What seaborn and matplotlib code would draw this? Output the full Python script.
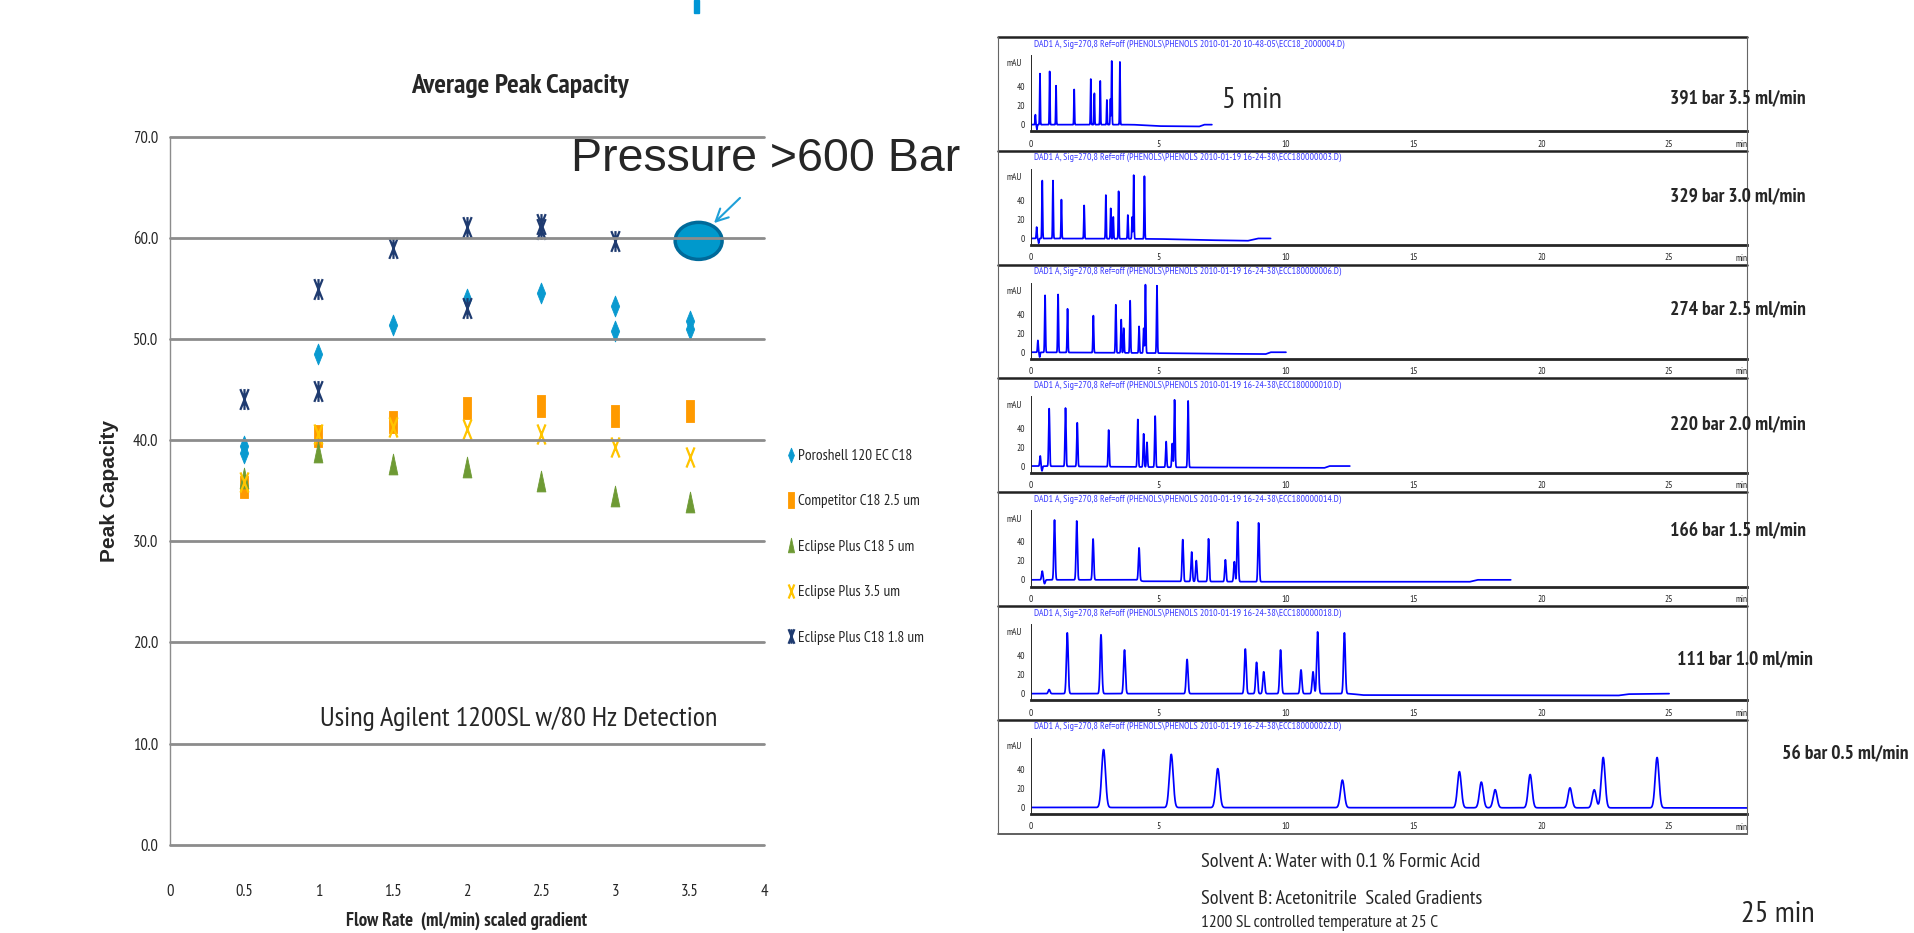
import numpy as np
import matplotlib
matplotlib.use("Agg")
import matplotlib.pyplot as plt
import seaborn as sns
from matplotlib import font_manager
from matplotlib.font_manager import FontProperties
from matplotlib.textpath import TextToPath
from matplotlib.path import Path
from matplotlib.patches import Ellipse, Rectangle
from matplotlib.ticker import MultipleLocator
from matplotlib.transforms import blended_transform_factory

W, H = 1914, 933

# ---- left chart: average peak capacity vs flow rate (ml/min) ----
poroshell_x = [0.5, 0.5, 1, 1.5, 2, 2.5, 3, 3, 3.5, 3.5]
poroshell_y = [39.4, 38.7, 48.5, 51.4, 54.0, 54.5, 53.3, 50.8, 51.8, 51.0]
competitor_x = [0.5, 1, 1.5, 2, 2.5, 3, 3.5]
competitor_y = [35.4, 40.4, 41.8, 43.2, 43.4, 42.4, 42.9]
eclipse5_x = [0.5, 1, 1.5, 2, 2.5, 3, 3.5]
eclipse5_y = [36.3, 38.8, 37.6, 37.3, 36.0, 34.5, 33.9]
eclipse35_x = [0.5, 1, 1.5, 2, 2.5, 3, 3.5]
eclipse35_y = [35.9, 40.6, 41.3, 41.1, 40.6, 39.3, 38.3]
eclipse18_x = [0.5, 1, 1, 1.5, 2, 2, 2.5, 2.5, 3, 3.5]
eclipse18_y = [44.1, 54.9, 44.9, 59.0, 61.1, 53.1, 61.4, 60.9, 59.7, 60.0]
series_labels = ["Poroshell 120 EC C18", "Competitor C18 2.5 um", "Eclipse Plus C18 5 um",
                 "Eclipse Plus 3.5 um", "Eclipse Plus C18 1.8 um"]
flow_ticks = [0, 0.5, 1, 1.5, 2, 2.5, 3, 3.5, 4]
capacity_ticks = [0, 10, 20, 30, 40, 50, 60, 70]

# ---- right: chromatograms, one per flow rate ----
run_labels = ["391 bar 3.5 ml/min", "329 bar 3.0 ml/min", "274 bar 2.5 ml/min",
              "220 bar 2.0 ml/min", "166 bar 1.5 ml/min", "111 bar 1.0 ml/min",
              "56 bar 0.5 ml/min"]
run_files = ["2010-01-20 10-48-05\\ECC18_2000004.D", "2010-01-19 16-24-38\\ECC180000003.D",
             "2010-01-19 16-24-38\\ECC180000006.D", "2010-01-19 16-24-38\\ECC180000010.D",
             "2010-01-19 16-24-38\\ECC180000014.D", "2010-01-19 16-24-38\\ECC180000018.D",
             "2010-01-19 16-24-38\\ECC180000022.D"]
run_end = [7.1, 9.4, 10.0, 12.5, 18.8, 25.0, 28.05]
peak_width = [0.012, 0.014, 0.016, 0.02, 0.026, 0.035, 0.075]
peak_t = [
    [0.19, 0.25, 0.37, 0.75, 1.0, 1.71, 2.36, 2.5, 2.73, 2.99, 3.13, 3.18, 3.5],
    [0.24, 0.32, 0.46, 0.88, 1.21, 2.10, 2.95, 3.14, 3.24, 3.45, 3.81, 3.98, 4.04, 4.46],
    [0.29, 0.36, 0.57, 1.08, 1.45, 2.46, 3.34, 3.55, 3.65, 3.90, 4.25, 4.43, 4.50, 4.95],
    [0.38, 0.45, 0.73, 1.37, 1.83, 3.06, 4.20, 4.43, 4.56, 4.88, 5.31, 5.55, 5.64, 6.17],
    [0.46, 0.55, 0.94, 1.81, 2.45, 4.25, 5.96, 6.31, 6.49, 6.97, 7.63, 7.98, 8.11, 8.93],
    [0.73, 1.44, 2.76, 3.68, 6.13, 8.41, 8.85, 9.13, 9.79, 10.59, 11.06, 11.24, 12.29],
    [2.86, 5.51, 7.33, 12.21, 16.79, 17.65, 18.19, 19.56, 21.12, 22.07, 22.42, 24.53],
]
peak_h = [
    [10.5, -5, 53.7, 56, 41, 37, 48, 33, 46, 26, 27, 67, 66],
    [12, -5, 61, 61, 41, 35, 46, 32, 23, 50, 25, 23, 67, 66],
    [12.5, -5, 60, 61, 46, 39, 50.6, 35, 26, 55, 28, 26, 72, 71],
    [10.7, -5, 60.6, 61.4, 46, 38.6, 50, 35, 26, 53.7, 27, 25, 71, 70],
    [9.2, -4, 63, 62, 43, 34, 44, 31, 22, 45, 23, 21, 63, 62],
    [4.3, 64, 62, 46, 36, 47, 33, 23, 46, 25, 23, 65, 64],
    [61, 56, 41, 29, 38, 27, 19, 35, 21, 19, 53, 53],
]
base_t = [
    [0, 4.0, 5.0, 6.6, 6.8, 7.1],
    [0, 5.0, 6.5, 8.5, 8.9, 9.4],
    [0, 5.5, 9.2, 9.4, 10.0],
    [0, 6.5, 11.5, 11.7, 12.5],
    [0, 4.2, 4.4, 9.0, 17.2, 17.5, 18.8],
    [0, 12.5, 13.0, 23.0, 23.4, 25.0],
    [0, 28.05],
]
base_v = [
    [0, 0, -1.5, -2.0, 0, 0],
    [0, -0.5, -1.5, -2.5, 0, 0],
    [0, -1.0, -2.0, 0, 0],
    [0, -1.5, -2.0, 0, 0],
    [0, 0, -1.5, -2.0, -2.0, 0, 0],
    [0, 0, -1.5, -2.0, -0.5, 0],
    [0, -0.5],
]

sns.set_style("white")

# the slide text is horizontally squeezed: use the narrowest installed sans face
_t2p = TextToPath()
SAMPLE = "Using Agilent 1200SL w/80 Hz Detection"
SANS = ("Sans", "Roboto", "Lato", "Inter")


def text_width(fp):
    return _t2p.get_text_width_height_descent(SAMPLE, fp, ismath=False)[0]


def as_weight(w):
    if isinstance(w, str):
        return font_manager.weight_dict.get(w, 400)
    return int(w)


ref_w = text_width(FontProperties(family="Liberation Sans", size=20))
best_font, best_stretch, best_r = "Liberation Sans", "normal", 1.0
faces = font_manager.fontManager.ttflist
cands = set()
for f in faces:
    if f.style != "normal" or not any(k in f.name for k in SANS):
        continue
    if any(k in f.name for k in ("Serif", "Mono", "CJK")):
        continue
    if f.stretch != "normal" or "Narrow" in f.name or "Condensed" in f.name:
        has_bold = any(g.name == f.name and g.stretch == f.stretch and as_weight(g.weight) >= 600
                       for g in faces)
        if has_bold:
            cands.add((f.name, f.stretch))
for name, stretch in sorted(cands):
    try:
        r = text_width(FontProperties(family=name, stretch=stretch, size=20)) / ref_w
    except Exception:
        continue
    if 0.5 <= r < best_r - 0.03:
        best_font, best_stretch, best_r = name, stretch, r
NS = 0.82 / best_r
plt.rcParams["font.family"] = [best_font, "DejaVu Sans"]
plt.rcParams["font.stretch"] = best_stretch

fig = plt.figure(figsize=(W / 100, H / 100), dpi=100)


def px_axes(x0, y0, x1, y1):
    return fig.add_axes([x0 / W, 1 - y1 / H, (x1 - x0) / W, (y1 - y0) / H])


# tall, narrow markers like the squeezed slide
M, L = Path.MOVETO, Path.LINETO
DIAMOND = Path([(0, 1), (0.4, 0), (0, -1), (-0.4, 0), (0, 1)], closed=True)
RECT = Path([(-0.33, -1), (0.33, -1), (0.33, 1), (-0.33, 1), (-0.33, -1)], closed=True)
TRI = Path([(0, 1), (0.42, -1), (-0.42, -1), (0, 1)], closed=True)
XMARK = Path([(-0.4, -1), (0.4, 1), (-0.4, 1), (0.4, -1)], [M, L, M, L])
STAR = Path([(-0.4, -1), (0.4, 1), (-0.4, 1), (0.4, -1), (0, -1), (0, 1)], [M, L, M, L, M, L])

# ---------------- left chart ----------------
ax = px_axes(169.7, 136.7, 764, 844.7)
ax.patch.set_alpha(0)
series = [
    (poroshell_x, poroshell_y, DIAMOND, "#0A9AD0", 15, 0.6),
    (competitor_x, competitor_y, RECT, "#FF9A00", 16, 0.6),
    (eclipse5_x, eclipse5_y, TRI, "#6E9A34", 15, 0.6),
    (eclipse35_x, eclipse35_y, XMARK, "#FFC400", 14.5, 1.6),
    (eclipse18_x, eclipse18_y, STAR, "#1F3B70", 15, 1.6),
]
for (xs, ys, mk, col, size, lw), lab in zip(series, series_labels):
    sns.scatterplot(x=xs, y=ys, ax=ax, marker=mk, s=size ** 2, color=col,
                    edgecolor=col, linewidth=lw, label=lab, zorder=3)

ax.add_patch(Ellipse((3.56, 59.7), 0.316, 3.66, facecolor="#0099CC",
                     edgecolor="#006A9A", lw=2.5, zorder=3.5))
for v in capacity_ticks:
    ax.axhline(v, color="#8c8c8c", lw=2, zorder=4, clip_on=False)

ax.set_xlim(0, 4)
ax.set_ylim(0, 70)
ax.set_xticks(flow_ticks)
ax.set_xticklabels([f"{v:g}" for v in flow_ticks])
ax.set_yticks(capacity_ticks)
ax.set_yticklabels([f"{v:.1f}" for v in capacity_ticks])
ax.tick_params(axis="x", length=0, pad=28, labelsize=11.5 * NS)
ax.tick_params(axis="y", length=0, pad=8, labelsize=11.5 * NS)
for s in ["top", "right", "bottom"]:
    ax.spines[s].set_visible(False)
ax.spines["left"].set_color("#8c8c8c")
ax.spines["left"].set_linewidth(1)

ax.set_ylabel("Peak Capacity", family="Liberation Sans", weight="bold", fontsize=15)
ax.yaxis.set_label_coords(-0.085, 0.5)
ax.set_xlabel("Flow Rate  (ml/min) scaled gradient", weight="bold", fontsize=13 * NS,
              va="center")
ax.xaxis.set_label_coords(0.5, -0.107)

leg_fs = 10.5 * NS
leg_px = leg_fs * 100 / 72
handles, labels = ax.get_legend_handles_labels()
ax.legend(handles, labels, loc="upper left", bbox_to_anchor=(786 / W, 1 - 449 / H),
          bbox_transform=fig.transFigure, frameon=False, fontsize=leg_fs,
          handlelength=0.6, handletextpad=0.2, labelspacing=46.6 / leg_px - 1.0,
          borderpad=0, borderaxespad=0, markerscale=0.7, scatteryoffsets=[0.5])

# ---------------- chromatograms ----------------
BOX_L, BOX_R, TOP0, PH = 998, 1747, 37, 113.8
X0 = 1030.5
label_pos = [(1738, 98), (1738, 196), (1738, 309), (1738, 424), (1738, 531),
             (1745, 659), (1845, 754)]
for i in range(7):
    top = TOP0 + i * PH
    ac = px_axes(X0, top + 18, BOX_R, top + 94.3)
    ac.patch.set_alpha(0)
    t = np.linspace(0, run_end[i], 7000)
    trace = np.interp(t, base_t[i], base_v[i])
    for p, h in zip(peak_t[i], peak_h[i]):
        trace = trace + h * np.exp(-0.5 * ((t - p) / peak_width[i]) ** 2)
    sns.lineplot(x=t, y=trace, ax=ac, color="#0000FF", linewidth=1.25,
                 estimator=None, sort=False)
    ac.set_xlim(0, 28.05)
    ac.set_ylim(-7, 73.3)
    ac.set_xticks([0, 5, 10, 15, 20, 25])
    ac.xaxis.set_minor_locator(MultipleLocator(1))
    ac.set_yticks([0, 20, 40])
    ac.yaxis.set_minor_locator(MultipleLocator(10))
    ac.tick_params(axis="x", which="major", length=3.5, width=0.8, pad=2.5,
                   labelsize=6.5 * NS, direction="out")
    ac.tick_params(axis="x", which="minor", length=2, width=0.6, direction="out")
    ac.tick_params(axis="y", which="major", length=2.5, width=0.7, pad=1.5,
                   labelsize=6.5 * NS, direction="out")
    ac.tick_params(axis="y", which="minor", length=1.5, width=0.6, direction="out")
    for s in ["top", "right"]:
        ac.spines[s].set_visible(False)
    ac.spines["bottom"].set_linewidth(2)
    ac.spines["left"].set_linewidth(0.7)
    ac.set_xlabel("")
    ac.set_ylabel("")
    tr = blended_transform_factory(ac.transData, ac.transAxes)
    ac.text(27.85, -0.17, "min", transform=tr, ha="center", va="center", fontsize=6.5 * NS)
    tr2 = blended_transform_factory(ac.transAxes, ac.transData)
    ac.text(-0.012, 64, "mAU", transform=tr2, ha="right", va="center", fontsize=6.5 * NS)

# ---------------- slide overlay (pixel coordinates) ----------------
bg = fig.add_axes([0, 0, 1, 1])
bg.set_xlim(0, W)
bg.set_ylim(H, 0)
bg.axis("off")
bg.patch.set_alpha(0)

bg.add_patch(Rectangle((694, 0), 5, 13, color="#0096D6"))
for i in range(7):
    top = TOP0 + i * PH
    bg.plot([BOX_L, BOX_R], [top, top], color="#222222", lw=1.8)
    bg.text(X0 + 3, top + 7, f"DAD1 A, Sig=270,8 Ref=off (PHENOLS\\PHENOLS {run_files[i]})",
            color="#3A3AFF", fontsize=6.8 * NS, ha="left", va="center")
    bg.text(*label_pos[i], run_labels[i], fontsize=13.5 * NS, weight="bold",
            ha="center", va="center")
bottom = TOP0 + 7 * PH
bg.plot([BOX_L, BOX_R], [bottom, bottom], color="#444444", lw=1.2)
bg.plot([BOX_L, BOX_L], [TOP0, bottom], color="#666666", lw=0.8)
bg.plot([BOX_R, BOX_R], [TOP0, bottom], color="#666666", lw=0.8)

bg.text(520, 93, "Average Peak Capacity", fontsize=19 * NS, weight="bold",
        ha="center", va="baseline")
bg.text(519, 726, "Using Agilent 1200SL w/80 Hz Detection", fontsize=19.5 * NS,
        ha="center", va="baseline")
bg.text(571, 171, "Pressure >600 Bar", family="Liberation Sans", fontsize=33.5,
        ha="left", va="baseline")
bg.annotate("", xy=(712, 225), xytext=(742, 196),
            arrowprops=dict(arrowstyle="->", color="#1FA0D8", lw=1.5, mutation_scale=22))
bg.text(1252, 108, "5 min", fontsize=21 * NS, ha="center", va="baseline")
bg.text(1778, 922, "25 min", fontsize=21 * NS, ha="center", va="baseline")
bg.text(1201, 862, "Solvent A: Water with 0.1 % Formic Acid", fontsize=14 * NS,
        ha="left", va="center")
bg.text(1201, 899, "Solvent B: Acetonitrile  Scaled Gradients", fontsize=14 * NS,
        ha="left", va="center")
bg.text(1201, 923, "1200 SL controlled temperature at 25 C", fontsize=12 * NS,
        ha="left", va="center")

fig.savefig("out.png", dpi=100)
